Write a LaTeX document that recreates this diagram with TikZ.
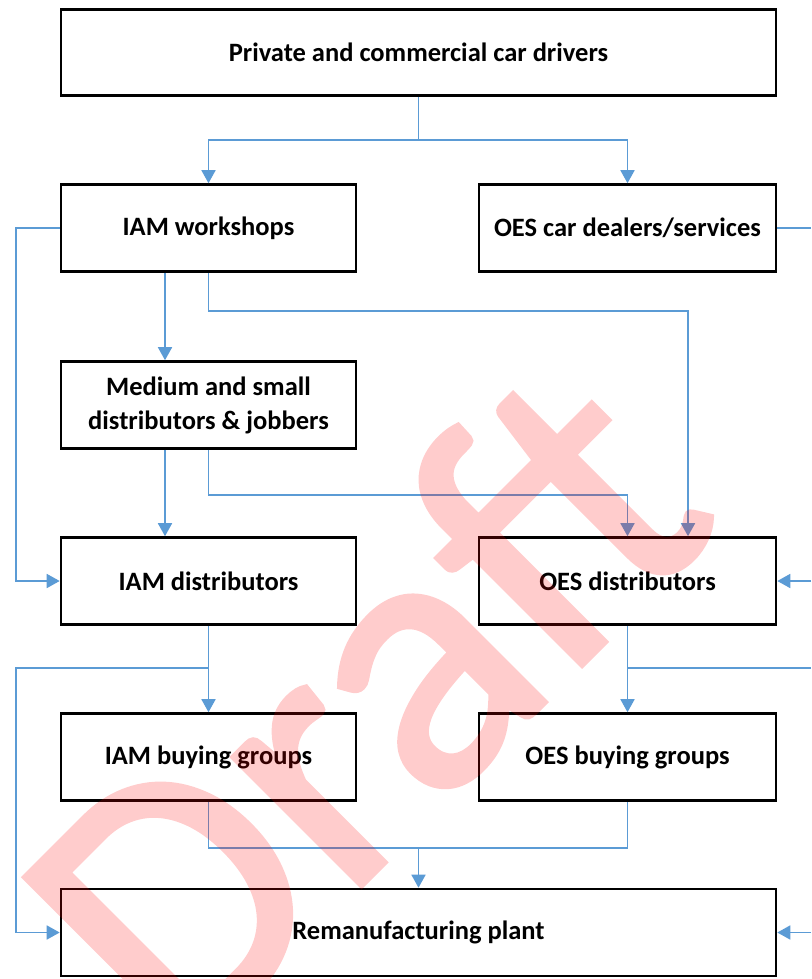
\documentclass[tikz,border=0pt]{standalone}
\usepackage{fontspec}
\setmainfont{Carlito}
\usetikzlibrary{arrows.meta}
\definecolor{flowblue}{HTML}{5B9BD5}
% heavier regular face for the watermark
\font\wmfont="Carlito:embolden=1.5" at 380pt
\begin{document}
\begin{tikzpicture}[x=1pt,y=-1pt,
  box/.style={draw=black, line width=2.6pt, rectangle, inner sep=0pt, align=center,
    font=\fontsize{26.5}{34}\selectfont\bfseries},
  narrowbox/.style={box, minimum width=295pt, minimum height=87pt},
  widebox/.style={box, minimum width=715pt, minimum height=86pt},
  flow/.style={draw=flowblue, line width=1.7pt},
  arr/.style={flow, -{Triangle[length=13pt,width=14pt]}},
]
\useasboundingbox (0,0) rectangle (811,979);
\fill[white] (0,0) rectangle (811,979);

% boxes
\node[widebox] (drivers) at (418.5,52.5) {Private and commercial car drivers};
\node[narrowbox] (iamw) at (208.5,228) {IAM workshops};
\node[narrowbox, minimum width=297pt] (oesc) at (627.5,228) {OES car dealers/services};
\node[narrowbox] (med) at (208.5,405) {Medium and small\\distributors \& jobbers};
\node[narrowbox] (iamd) at (208.5,581) {IAM distributors};
\node[narrowbox, minimum width=297pt] (oesd) at (627.5,581) {OES distributors};
\node[narrowbox] (iamb) at (208.5,757) {IAM buying groups};
\node[narrowbox, minimum width=297pt] (oesb) at (627.5,757) {OES buying groups};
\node[widebox, minimum height=87pt] (rem) at (418.5,932.5) {Remanufacturing plant};

% helper coordinates for buses
\coordinate (L) at (16,0);
\coordinate (R) at (811,0);
\coordinate (c165) at (165,0);
\coordinate (topbus) at (418.5,140);
\coordinate (wbus) at (688,311);
\coordinate (mbus) at (627.5,495);
\coordinate (dbusL) at (208.5,668);
\coordinate (dbusR) at (627.5,668);
\coordinate (bbus) at (418.5,848);

% drivers to workshops and dealers
\draw[flow] (drivers.south) -- (topbus);
\draw[arr] (topbus) -| (iamw.north);
\draw[arr] (topbus) -| (oesc.north);

% workshops
\draw[arr] (iamw.west) -- (iamw.west -| L) -- (iamd.west -| L) -- (iamd.west);
\draw[arr] (iamw.south -| c165) -- (med.north -| c165);
\draw[arr] (iamw.south) |- (wbus) -- (oesd.north -| wbus);

% dealers / services
\draw[flow] (oesc.east) -- (oesc.east -| R);

% medium and small distributors
\draw[arr] (med.south -| c165) -- (iamd.north -| c165);
\draw[arr] (med.south) |- (mbus) -- (oesd.north);

% distributors
\draw[arr] (oesd.east -| R) -- (oesd.east);
\draw[arr] (iamd.south) -- (iamb.north);
\draw[arr] (dbusL) -- (dbusL -| L) -- (rem.west -| L) -- (rem.west);
\draw[arr] (oesd.south) -- (oesb.north);
\draw[flow] (dbusR) -- (dbusR -| R);

% buying groups to plant
\draw[flow] (iamb.south) |- (bbus) -| (oesb.south);
\draw[arr] (bbus) -- (rem.north);
\draw[arr] (rem.east -| R) -- (rem.east);

% watermark, painted solid inside a group that is then made translucent
\begin{scope}[transparency group, opacity=0.2]
  \node[rotate=45, anchor=base west, inner sep=0pt, text=red,
    font=\wmfont] (draftmark) at (179,1068) {Draft};
\end{scope}
\end{tikzpicture}
\end{document}
